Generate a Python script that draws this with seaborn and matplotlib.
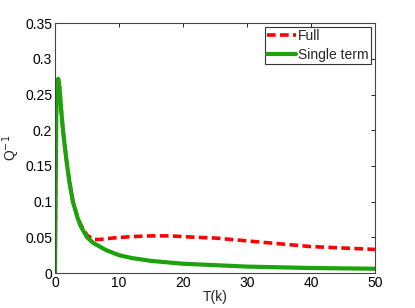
import numpy as np
import pandas as pd
import seaborn as sns
import matplotlib.pyplot as plt

# values
t_single = [0, 0.1, 0.2, 0.3, 0.5, 0.7, 1.0, 1.25, 1.5, 1.9, 2.3, 2.8, 3.5, 4.0, 5.0, 6.0, 8.0,
            10, 12, 15, 20, 25, 30, 40, 50]
q_single = [0, 0.12, 0.22, 0.26, 0.272, 0.26, 0.225, 0.2, 0.18, 0.15, 0.125, 0.1, 0.078,
            0.066, 0.05, 0.042, 0.032, 0.025, 0.021, 0.017, 0.013, 0.011, 0.009, 0.007, 0.006]

t_full = [0, 0.1, 0.2, 0.3, 0.5, 0.7, 1.0, 1.25, 1.5, 1.9, 2.3, 2.8, 3.5, 4.0, 5.0, 6.0, 7.0,
          9.0, 12, 15, 18, 22, 25, 30, 35, 40, 45, 50]
q_full = [0, 0.12, 0.22, 0.26, 0.272, 0.26, 0.225, 0.2, 0.18, 0.15, 0.125, 0.1, 0.079,
          0.068, 0.053, 0.047, 0.047, 0.049, 0.051, 0.052, 0.052, 0.05, 0.049, 0.045, 0.041,
          0.037, 0.035, 0.033]

sns.set_style("white")
plt.rcParams['font.family'] = ['Liberation Sans', 'DejaVu Sans']

fig = plt.figure(figsize=(4.15, 3.08), dpi=100)
ax = fig.add_axes([0.1325, 0.1136, 0.771, 0.8114])

sns.lineplot(x=t_full, y=q_full, ax=ax, color='red', linestyle='--', linewidth=2.6,
             sort=False, label='Full')
sns.lineplot(x=t_single, y=q_single, ax=ax, color='#1ca30c', linewidth=3,
             sort=False, label='Single term')
ax.lines[0].set_dashes([2.4, 1.2])

ax.set_xlim(0, 50)
ax.set_ylim(0, 0.35)
ax.set_xticks([0, 10, 20, 30, 40, 50])
ax.set_yticks(np.arange(0, 0.36, 0.05))
ax.set_yticklabels(['0', '0.05', '0.1', '0.15', '0.2', '0.25', '0.3', '0.35'])
ax.set_xlabel('T(k)', fontsize=10, labelpad=0)
ax.set_ylabel('Q$^{-1}$', fontsize=10, labelpad=2)
ax.tick_params(direction='in', length=3, width=0.6, labelsize=10, top=True, right=True,
               colors='black', pad=2)
for s in ax.spines.values():
    s.set_color('#444444')
    s.set_linewidth(0.8)

leg = ax.legend(loc='upper right', fontsize=10, frameon=True, fancybox=False,
                handlelength=2.1, borderpad=0.15, labelspacing=0.35, handletextpad=0.15,
                borderaxespad=0.3)
leg.get_frame().set_edgecolor('black')
leg.get_frame().set_linewidth(0.8)

fig.savefig('out.png', dpi=100)
